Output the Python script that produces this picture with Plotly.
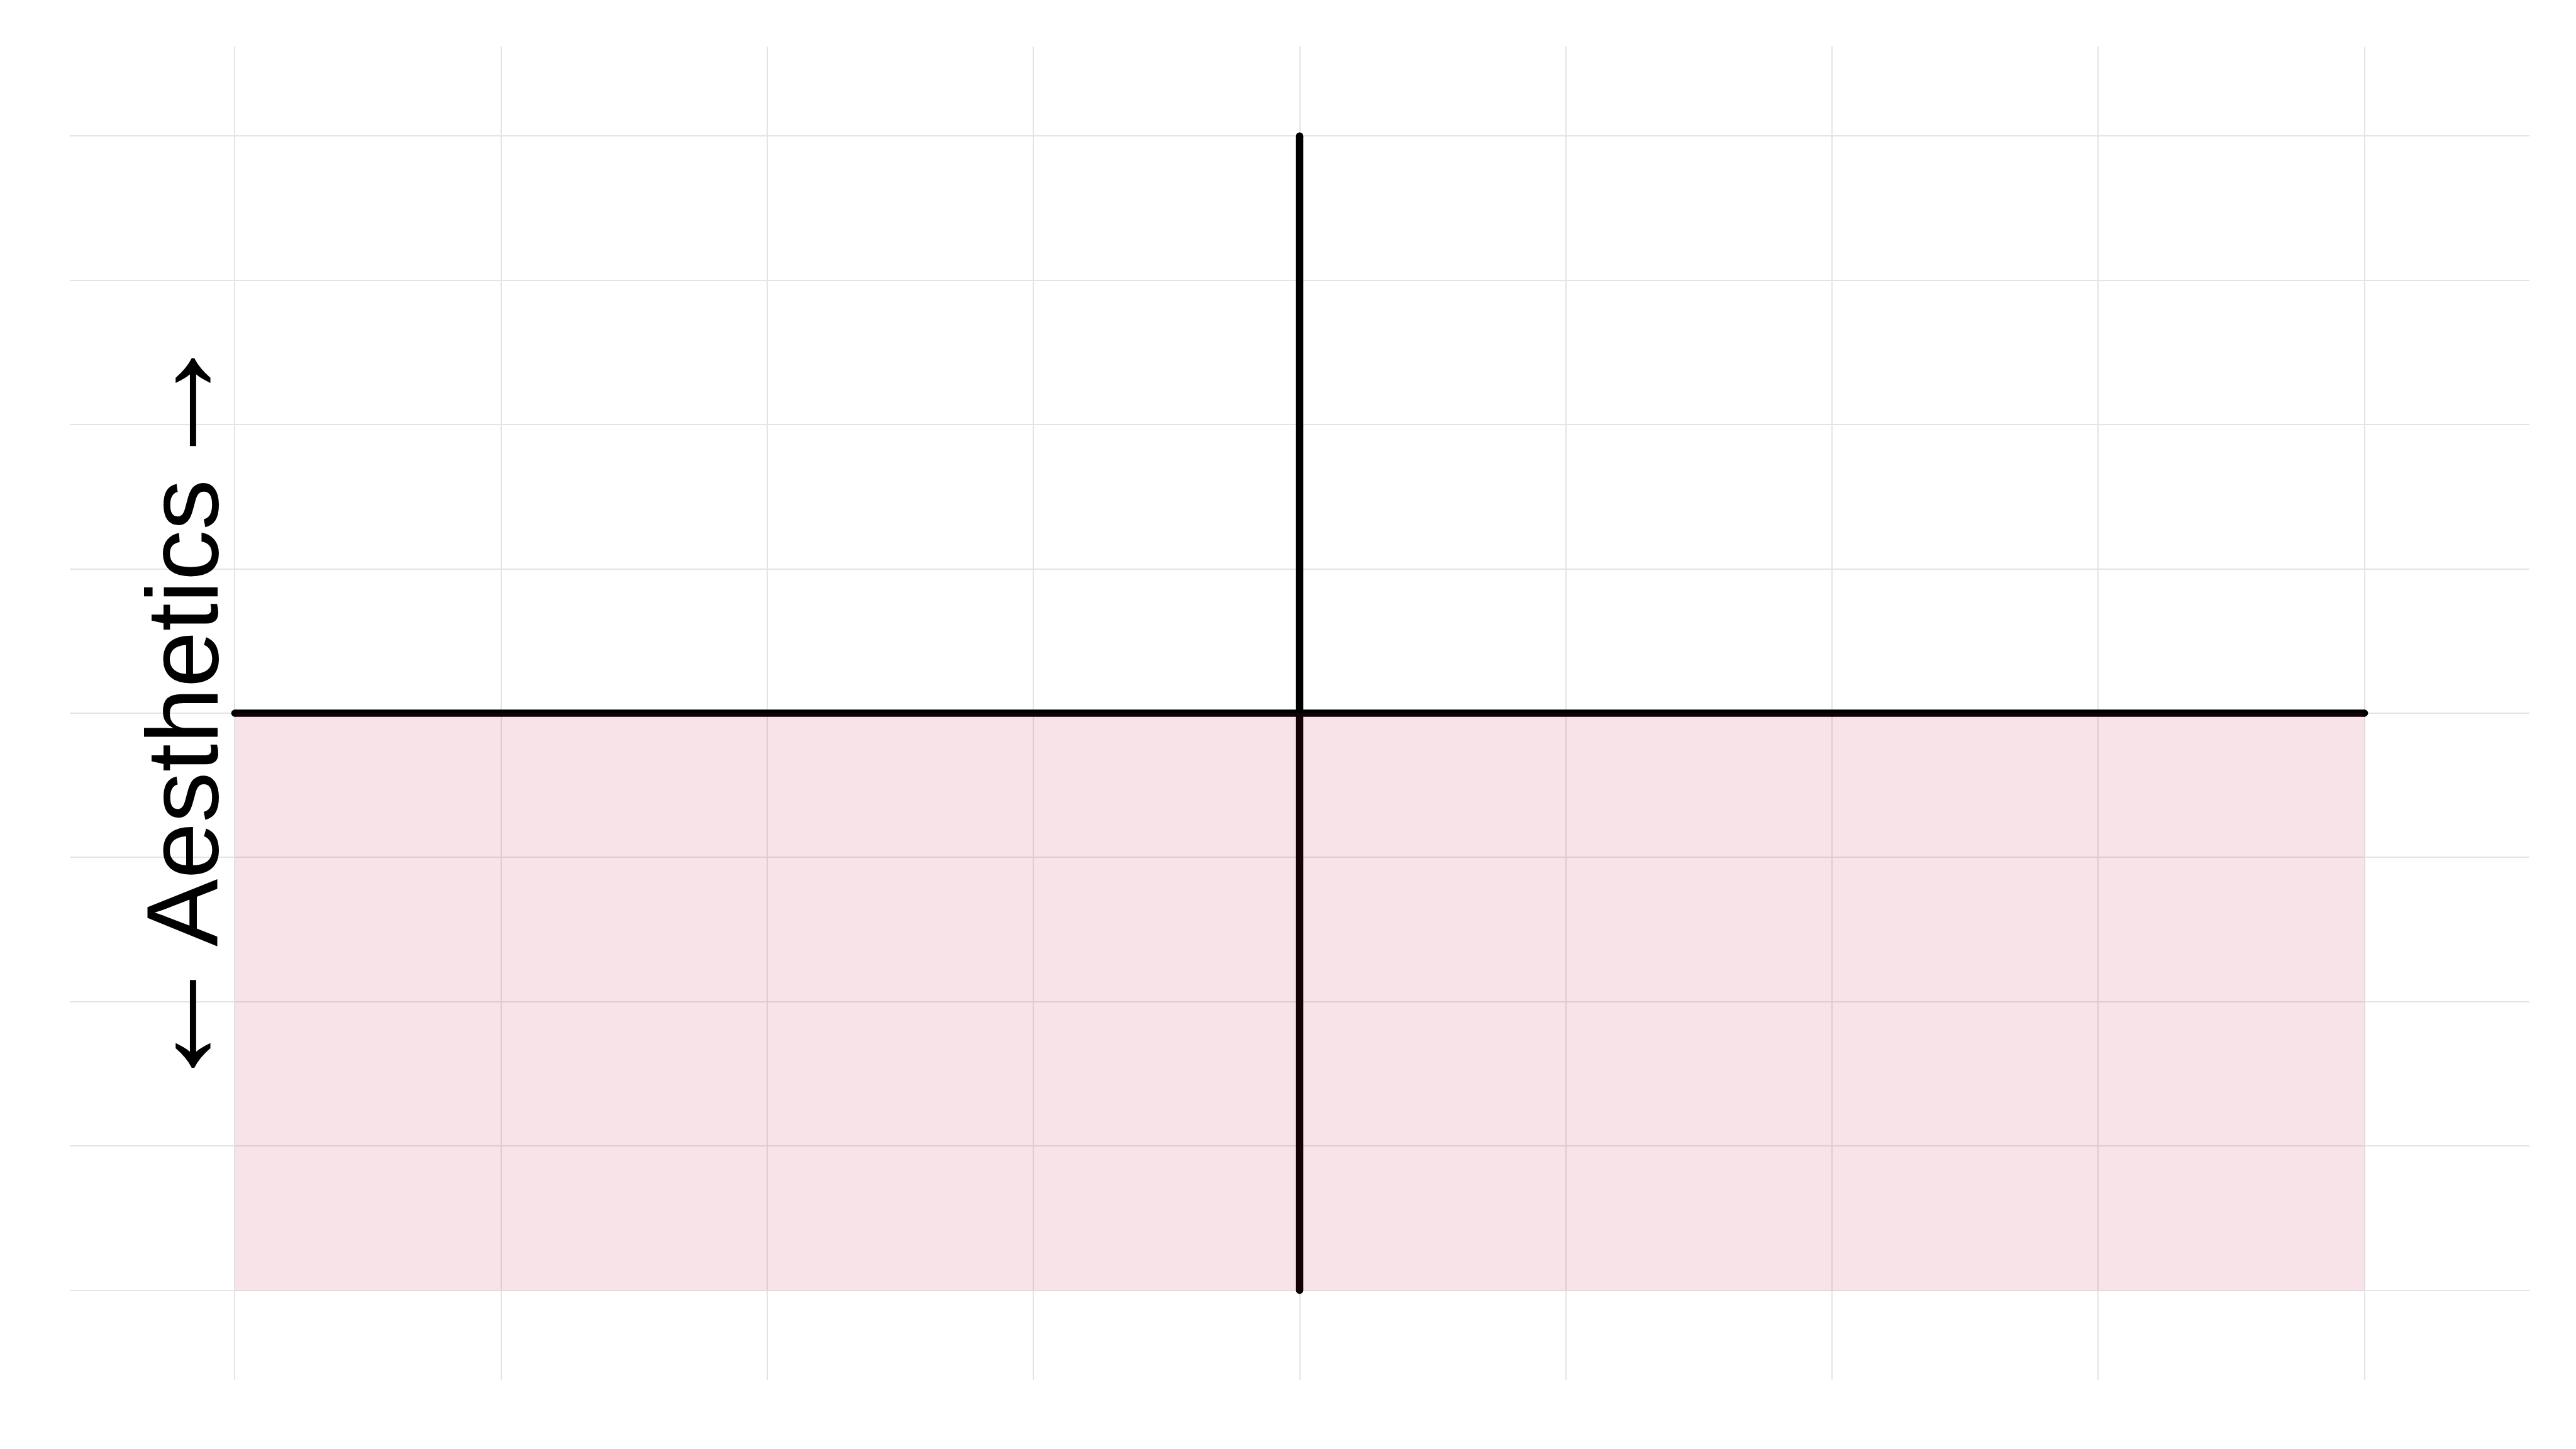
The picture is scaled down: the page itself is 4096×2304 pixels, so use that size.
import plotly.graph_objects as go

# Data
grid_ticks = [-4, -3, -2, -1, 0, 1, 2, 3, 4]
hline_x = [-4, 4]
hline_y = [0, 0]
vline_x = [0, 0]
vline_y = [-4, 4]
rect_x = [-4, 4, 4, -4, -4]
rect_y = [-4, -4, 0, 0, -4]
arrow_left = "←"
arrow_right = "→"
axis_label = "Aesthetics"

# page body has an 8px margin: compensate so the figure fills 4096x2304
BODY = 8
W, H = 4096 - BODY, 2304 - BODY
ML, MR, MT, MB = 111 - BODY, 74, 74 - BODY, 110
LW = 11.6
FONT = "Liberation Sans, Arial, sans-serif"

fig = go.Figure()

# black lines with round caps (markers at ends)
for xs, ys in [(hline_x, hline_y), (vline_x, vline_y)]:
    fig.add_trace(go.Scatter(
        x=xs, y=ys, mode="lines+markers",
        line=dict(color="black", width=LW),
        marker=dict(color="black", size=LW, line=dict(width=0)),
        hoverinfo="skip", showlegend=False))

# translucent pink rectangle on top
fig.add_trace(go.Scatter(
    x=rect_x, y=rect_y, mode="lines", fill="toself",
    fillcolor="rgba(190,0,45,0.11)", line=dict(width=0),
    hoverinfo="skip", showlegend=False))

axis_common = dict(
    tickvals=grid_ticks, showticklabels=False, ticks="",
    showgrid=True, gridcolor="#e4e4e4", gridwidth=2,
    zeroline=False, showline=False, range=[-4.62, 4.62], fixedrange=True)

sp = '<span style="font-size:18px"> </span>'
title_text = (f'<span style="font-size:236px">{arrow_left}</span>{sp}{axis_label}{sp}'
              f'<span style="font-size:236px">{arrow_right}</span>')

plot_w = W - ML - MR
fig.update_layout(
    width=W, height=H, autosize=False,
    margin=dict(l=ML, r=MR, t=MT, b=MB, pad=0),
    paper_bgcolor="white", plot_bgcolor="white",
    xaxis=axis_common, yaxis=axis_common,
    font=dict(family=FONT, color="black"),
    annotations=[dict(
        text=title_text, textangle=-90, showarrow=False,
        xref="paper", yref="y", x=(288 - 24 - 111) / plot_w, y=0,
        xanchor="center", yanchor="middle",
        font=dict(size=161, color="black", family=FONT))],
)

fig.write_html("out.html")
